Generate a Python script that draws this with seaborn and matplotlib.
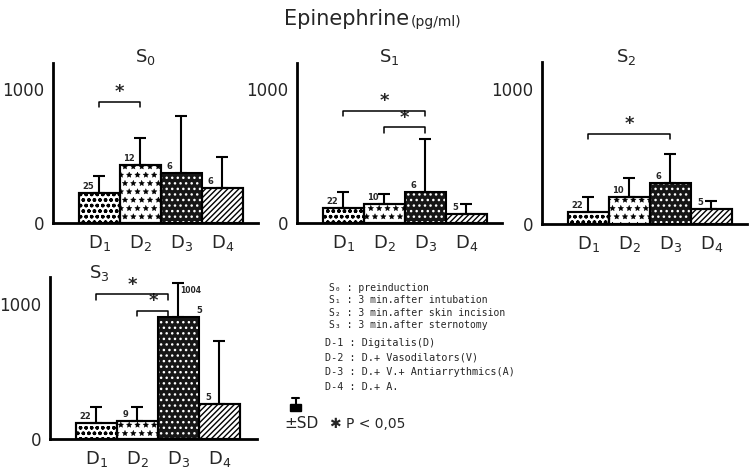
import numpy as np
import pandas as pd
import seaborn as sns
from matplotlib import pyplot as plt
from matplotlib.patches import Rectangle
from matplotlib.lines import Line2D

groups = ['D1', 'D2', 'D3', 'D4']
tick_labels = ['D$_1$', 'D$_2$', 'D$_3$', 'D$_4$']

s0_mean = [227, 431, 372, 260]
s0_sd = [124, 205, 428, 236]
s0_n = ['25', '12', '6', '6']

s1_mean = [110, 140, 234, 67]
s1_sd = [122, 75, 394, 73]
s1_n = ['22', '10', '6', '5']

s2_mean = [93, 202, 304, 113]
s2_sd = [111, 141, 217, 60]
s2_n = ['22', '10', '6', '5']

s3_mean = [120, 130, 904, 259]
s3_sd = [114, 104, 246, 463]
s3_n = ['22', '9', '5', '5']

# significance brackets: (from group, to group, height)
s0_sig = [(0, 1, 907)]
s1_sig = [(0, 2, 840), (1, 2, 716)]
s2_sig = [(0, 2, 672)]
s3_sig = [(0, 1.76, 1069), (1, 1.76, 948)]

legend_lines = [
    'S\u2080 : preinduction',
    'S\u2081 : 3 min.after intubation',
    'S\u2082 : 3 min.after skin incision',
    'S\u2083 : 3 min.after sternotomy',
]
drug_lines = [
    'D-1 : Digitalis(D)',
    'D-2 : D.+ Vasodilators(V)',
    'D-3 : D.+ V.+ Antiarrythmics(A)',
    'D-4 : D.+ A.',
]

sns.set_style('white')
plt.rcParams['font.family'] = ['DejaVu Sans']
plt.rcParams['mathtext.default'] = 'regular'

fig = plt.figure(figsize=(7.53, 4.71), dpi=100)

W, H = 753, 471
panels = [
    ('S$_0$', s0_mean, s0_sd, s0_n, s0_sig, [53 / W, (H - 223) / H, 205 / W, 160.5 / H], 0.45, 1.035),
    ('S$_1$', s1_mean, s1_sd, s1_n, s1_sig, [297 / W, (H - 223) / H, 205 / W, 160.5 / H], 0.45, 1.035),
    ('S$_2$', s2_mean, s2_sd, s2_n, s2_sig, [542 / W, (H - 224.3) / H, 205 / W, 162 / H], 0.41, 1.035),
    ('S$_3$', s3_mean, s3_sd, s3_n, s3_sig, [50 / W, (H - 439) / H, 207 / W, 162.4 / H], 0.24, 1.02),
]

hatches = ['ooo', '**', '...', '//////']
faces = ['white', 'white', '#161616', 'white']

for title, mean, sd, n, sig, rect, tx, ty in panels:
    ax = fig.add_axes(rect)
    df = pd.DataFrame({'group': groups, 'value': mean})
    sns.barplot(data=df, x='group', y='value', order=groups, width=1.0,
                color='white', errorbar=None, ax=ax)
    for p, h, fc in zip(ax.patches, hatches, faces):
        p.set_facecolor(fc)
        p.set_hatch(h)
        if h == '**' and hasattr(p, 'set_hatch_linewidth'):
            p.set_hatch_linewidth(0.3)
        if fc == 'white':
            p.set_edgecolor('black')
            p.set_linewidth(1.5)
        else:
            p.set_edgecolor('white')
            p.set_linewidth(0)
    # outline on top
    ax.bar(range(4), mean, width=1.0, fill=False, edgecolor='black', linewidth=1.5, zorder=3)
    ax.errorbar(range(4), mean, yerr=[np.zeros(4), sd], fmt='none', ecolor='black',
                elinewidth=1.5, capsize=4.5, capthick=1.5, zorder=4)
    for i, lab in enumerate(n):
        dx = 0.52 if (title == 'S$_3$' and i == 2) else -0.28
        ax.text(i + dx, mean[i] + 15, lab, fontsize=6, fontweight='bold',
                ha='center', va='bottom', zorder=5)
    for a, b, h in sig:
        ax.plot([a, a, b, b], [h - 40, h, h, h - 40], color='black', lw=1.1, zorder=5)
        ax.text((a + b) / 2, h + 5, '*', fontsize=13, fontweight='bold',
                ha='center', va='bottom')
    if title == 'S$_3$':
        ax.text(2.05, 1095, '1004', fontsize=5.5, fontweight='bold', ha='left', va='center')

    ax.set_xlim(-1.13, -1.13 + rect[2] * W / 41)
    ax.set_ylim(0, 1200)
    ax.set_yticks([0, 500, 1000])
    ax.set_yticklabels(['0', '', '1000'], fontsize=12)
    ax.set_xticks(range(4))
    ax.set_xticklabels(tick_labels, fontsize=13)
    ax.tick_params(axis='x', length=0, pad=7)
    ax.tick_params(axis='y', length=4, width=1.2, pad=2)
    ax.set_xlabel('')
    ax.set_ylabel('')
    sns.despine(ax=ax)
    for s in ['left', 'bottom']:
        ax.spines[s].set_linewidth(2)
        ax.spines[s].set_color('black')
    ax.text(tx, ty, title, transform=ax.transAxes, fontsize=13,
            ha='center', va='center')

fig.text(0.543, 0.96, 'Epinephrine', ha='right', va='center', fontsize=15)
fig.text(0.545, 0.953, '(pg/ml)', ha='left', va='center', fontsize=10)

y = 1 - 288 / H
for line in legend_lines:
    fig.text(329 / W, y, line, fontsize=7, family='DejaVu Sans Mono', va='center')
    y -= 12.3 / H
y = 1 - 343 / H
for line in drug_lines:
    fig.text(325 / W, y, line, fontsize=7.3, family='DejaVu Sans Mono', va='center')
    y -= 14.7 / H

# SD key
fig.add_artist(Rectangle((290 / W, 1 - 411 / H), 11 / W, 7 / H, facecolor='black',
                         edgecolor='black', transform=fig.transFigure))
fig.add_artist(Line2D([295.5 / W, 295.5 / W], [1 - 404 / H, 1 - 398 / H], color='black',
                      lw=1.5, transform=fig.transFigure))
fig.add_artist(Line2D([292 / W, 299 / W], [1 - 398 / H, 1 - 398 / H], color='black',
                      lw=1.5, transform=fig.transFigure))
fig.text(284 / W, 1 - 423 / H, '\u00b1SD', fontsize=11, va='center')
fig.text(330 / W, 1 - 424 / H, '\u2731 P < 0,05', fontsize=10, va='center')

fig.savefig('out.png', dpi=100)
